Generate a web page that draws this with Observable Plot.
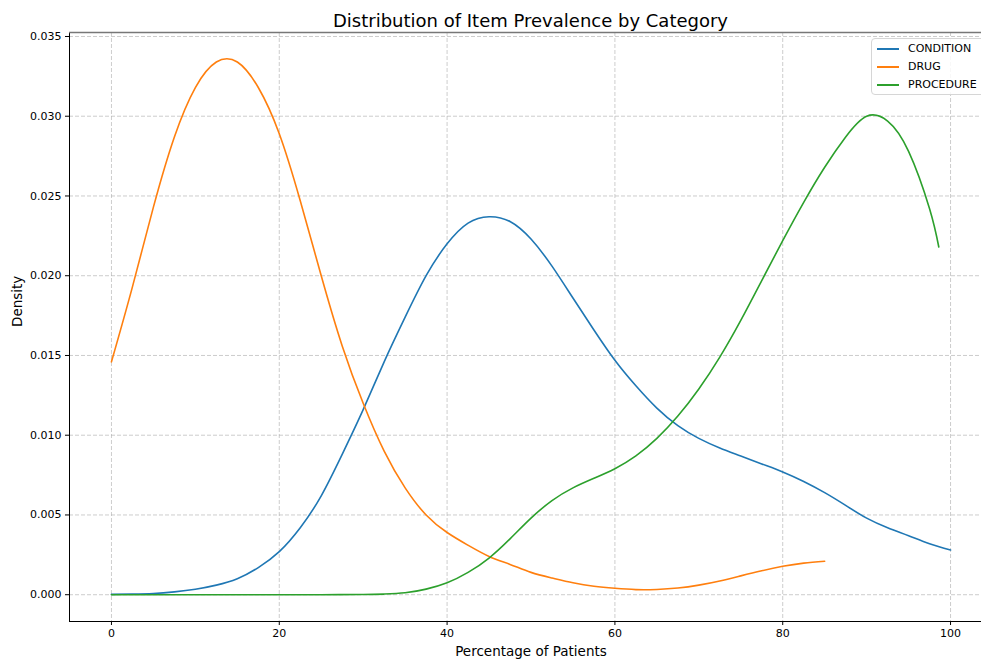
<!DOCTYPE html>
<html>
<head>
<meta charset="utf-8">
<script src="https://cdn.jsdelivr.net/npm/d3@7"></script>
<script src="https://cdn.jsdelivr.net/npm/@observablehq/plot@0.6"></script>
<style>
  body { margin: 0; background: #fff; font-family: "DejaVu Sans", sans-serif; }
  #wrap { position: relative; width: 981px; height: 659px; overflow: hidden; background: #fff; }
  #title { height: 22px; padding-top: 8px; line-height: 26px; font-size: 18px; margin-left: 69px; width: 923px; text-align: center; white-space: nowrap; color: #000; }
  #legend { position: absolute; left: 871px; top: 38px; width: 120px; height: 55px; border: 1px solid #d6d6d6; border-radius: 4px; background: rgba(255,255,255,0.85); font-size: 11px; color: #000; }
  .row { position: absolute; left: 0; height: 18px; width: 120px; }
  .sw { position: absolute; left: 5px; top: 8px; width: 22px; height: 1.6px; }
  .lb { position: absolute; left: 36px; top: 2px; line-height: 14px; white-space: nowrap; }
</style>
</head>
<body>
<div id="wrap">
  <div id="title"></div>
  <div id="chart"></div>
  <div id="legend"></div>
</div>
<script>
const titleText = "Distribution of Item Prevalence by Category";
const xLabel = "Percentage of Patients";
const yLabel = "Density";
const categories = ["CONDITION", "DRUG", "PROCEDURE"];
const colors = ["#1f77b4", "#ff7f0e", "#2ca02c"];
const xTicks = [0, 20, 40, 60, 80, 100];
const yTicks = [0, 0.005, 0.010, 0.015, 0.020, 0.025, 0.030, 0.035];
const xDomain = [-5, 105];
const yDomain = [-0.00168, 0.03525];

const conditionX = [0, 2.5, 5, 7.5, 10, 12.5, 15, 17.5, 20, 22.5, 25, 27.5, 30, 32.5, 35, 37.5, 40, 42.5, 45, 47.5, 50, 52.5, 55, 57.5, 60, 62.5, 65, 67.5, 70, 72.5, 75, 77.5, 80, 82.5, 85, 87.5, 90, 92.5, 95, 97.5, 100];
const conditionY = [0.00002, 0.00004, 0.00008, 0.00018, 0.00034, 0.0006, 0.0010, 0.0017, 0.0027, 0.0042, 0.0062, 0.0088, 0.0116, 0.0146, 0.0174, 0.0200, 0.0220, 0.0233, 0.0237, 0.0234, 0.0223, 0.0206, 0.0186, 0.0166, 0.0147, 0.0131, 0.0117, 0.0106, 0.0098, 0.0092, 0.0087, 0.0082, 0.0077, 0.0071, 0.0064, 0.0056, 0.0048, 0.0042, 0.0037, 0.0032, 0.0028];

const drugX = [0, 2.5, 5, 7.5, 10, 12.5, 15, 17.5, 20, 22.5, 25, 27.5, 30, 32.5, 35, 37.5, 40, 42.5, 45, 47.5, 50, 52.5, 55, 57.5, 60, 62.5, 65, 67.5, 70, 72.5, 75, 77.5, 80, 82.5, 85];
const drugY = [0.0146, 0.0193, 0.0243, 0.0287, 0.0318, 0.0334, 0.0334, 0.0318, 0.0289, 0.0247, 0.0200, 0.0156, 0.0120, 0.0090, 0.0067, 0.0050, 0.0039, 0.0031, 0.0024, 0.0019, 0.0014, 0.00105, 0.00075, 0.00053, 0.0004, 0.00032, 0.00033, 0.00042, 0.0006, 0.00086, 0.00118, 0.0015, 0.00178, 0.00198, 0.0021];

const procedureX = [0, 10, 20, 25, 30, 32.5, 35, 37.5, 40, 42.5, 45, 47.5, 50, 52.5, 55, 57.5, 60, 62.5, 65, 67.5, 70, 72.5, 75, 77.5, 80, 82.5, 85, 87.5, 90, 92.5, 95, 97.5, 98.6];
const procedureY = [0, 0, 0, 0, 0.00001, 0.00004, 0.00012, 0.00035, 0.00075, 0.0014, 0.0023, 0.0035, 0.0048, 0.0059, 0.0067, 0.0073, 0.0079, 0.0087, 0.0098, 0.0112, 0.0129, 0.0149, 0.0172, 0.0197, 0.0222, 0.0246, 0.0268, 0.0287, 0.0300, 0.0297, 0.0278, 0.0242, 0.0218];

const seriesX = [conditionX, drugX, procedureX];
const seriesY = [conditionY, drugY, procedureY];
const rows = [];
categories.forEach((c, i) => {
  seriesX[i].forEach((x, j) => rows.push({cat: c, x, y: seriesY[i][j]}));
});

document.getElementById("title").textContent = titleText;

const gridStyle = {stroke: "#b0b0b0", strokeOpacity: 0.7, strokeDasharray: "4,2", strokeWidth: 0.9};

const chart = Plot.plot({
  width: 981,
  height: 629,
  marginLeft: 69,
  marginRight: -11,
  marginTop: 2,
  marginBottom: 38,
  style: {fontFamily: "DejaVu Sans, sans-serif", fontSize: "11px", color: "#000", background: "#fff", overflow: "hidden"},
  x: {domain: xDomain},
  y: {domain: yDomain},
  color: {domain: categories, range: colors},
  marks: [
    Plot.gridX(xTicks, gridStyle),
    Plot.gridY(yTicks, gridStyle),
    Plot.line(rows, {x: "x", y: "y", z: "cat", stroke: "cat", curve: "natural", strokeWidth: 1.6}),
    Plot.axisX(xTicks, {tickSize: 4, tickPadding: 4, label: null, tickFormat: d => String(d), stroke: "#000"}),
    Plot.axisY(yTicks, {tickSize: 4, tickPadding: 4, label: null, tickFormat: d3.format(".3f"), stroke: "#000"}),
    Plot.ruleX([xDomain[0]], {stroke: "#000", strokeWidth: 1}),
    Plot.ruleY([yDomain[0]], {stroke: "#000", strokeWidth: 1}),
    Plot.ruleY([yDomain[1]], {stroke: "#777", strokeWidth: 1.3}),
    Plot.text([xLabel], {text: d => d, frameAnchor: "bottom", dy: 34, fontSize: 13.5, fill: "#000"}),
    Plot.text([yLabel], {text: d => d, frameAnchor: "left", rotate: -90, dx: -52, fontSize: 13.5, fill: "#000"})
  ]
});
document.getElementById("chart").appendChild(chart);

const legend = document.getElementById("legend");
categories.forEach((c, i) => {
  const row = document.createElement("div");
  row.className = "row";
  row.style.top = (1 + i * 18) + "px";
  const sw = document.createElement("div");
  sw.className = "sw";
  sw.style.background = colors[i];
  const lb = document.createElement("div");
  lb.className = "lb";
  lb.textContent = c;
  row.appendChild(sw);
  row.appendChild(lb);
  legend.appendChild(row);
});
</script>
</body>
</html>
